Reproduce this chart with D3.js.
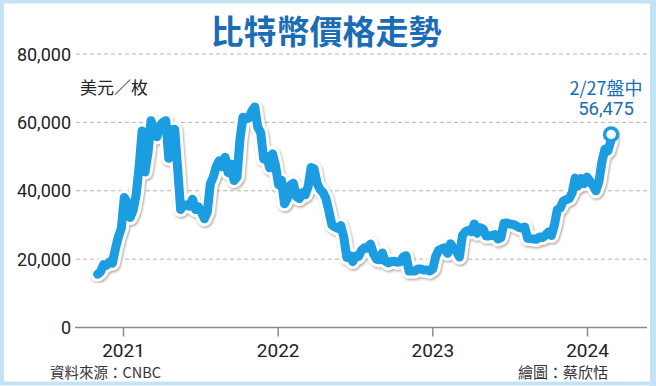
<!DOCTYPE html>
<html>
<head>
<meta charset="utf-8">
<script src="https://cdn.jsdelivr.net/npm/d3@7"></script>
<style>
  html, body { margin: 0; padding: 0; background: #fff; }
  svg { display: block; }
  .cjk { font-family: "Noto Sans CJK TC", "Noto Sans", sans-serif; }
  .num { font-family: Roboto, "Liberation Sans", sans-serif; }
</style>
</head>
<body>
<svg id="chart" width="656" height="386"></svg>
<script>
// weekly closes (USD per coin)
var weeks2020 = ["2020-11-02","2020-11-09","2020-11-16","2020-11-23","2020-11-30","2020-12-07","2020-12-14","2020-12-21","2020-12-28"];
var price2020 = [15600,16300,18400,18200,19200,18800,23000,26500,29000];

var weeks2021 = ["2021-01-04","2021-01-11","2021-01-18","2021-01-25","2021-02-01","2021-02-08","2021-02-15","2021-02-22",
  "2021-03-01","2021-03-08","2021-03-15","2021-03-22","2021-03-29","2021-04-05","2021-04-12","2021-04-19","2021-04-26",
  "2021-05-03","2021-05-10","2021-05-17","2021-05-24","2021-05-31","2021-06-07","2021-06-14","2021-06-21","2021-06-28",
  "2021-07-05","2021-07-12","2021-07-19","2021-07-26","2021-08-02","2021-08-09","2021-08-16","2021-08-23","2021-08-30",
  "2021-09-06","2021-09-13","2021-09-20","2021-09-27","2021-10-04","2021-10-11","2021-10-18","2021-10-25",
  "2021-11-01","2021-11-08","2021-11-15","2021-11-22","2021-11-29","2021-12-06","2021-12-13","2021-12-20","2021-12-27"];
var price2021 = [38000,36500,32200,34300,38800,47000,57500,45500,
  51000,60500,57500,55800,59000,60000,60500,49500,57800,
  58000,46500,34500,35800,35800,35500,37500,34500,35300,
  33800,31800,33800,42000,44000,47000,48800,47000,49800,
  45300,47800,43000,44000,55000,61500,61000,61300,
  63300,64500,58600,57000,49300,50100,46700,50800,47300];

var weeks2022 = ["2022-01-03","2022-01-10","2022-01-17","2022-01-24","2022-01-31","2022-02-07","2022-02-14","2022-02-21",
  "2022-02-28","2022-03-07","2022-03-14","2022-03-21","2022-03-28","2022-04-04","2022-04-11","2022-04-18","2022-04-25",
  "2022-05-02","2022-05-09","2022-05-16","2022-05-23","2022-05-30","2022-06-06","2022-06-13","2022-06-20","2022-06-27",
  "2022-07-04","2022-07-11","2022-07-18","2022-07-25","2022-08-01","2022-08-08","2022-08-15","2022-08-22","2022-08-29",
  "2022-09-05","2022-09-12","2022-09-19","2022-09-26","2022-10-03","2022-10-10","2022-10-17","2022-10-24",
  "2022-10-31","2022-11-07","2022-11-14","2022-11-21","2022-11-28","2022-12-05","2022-12-12","2022-12-19","2022-12-26"];
var price2022 = [41800,43100,36200,37800,41600,42200,38300,37700,
  39400,38800,41300,46800,46400,42200,40400,39500,37700,
  34000,30000,29400,29000,29800,26500,20500,21000,19300,
  20900,20800,22600,23300,23200,24400,21600,20000,19800,
  21800,19400,18900,19300,19400,19100,19200,20600,
  21000,16500,16600,16500,17100,17100,16800,16800,16500];

var weeks2023 = ["2023-01-02","2023-01-09","2023-01-16","2023-01-23","2023-01-30","2023-02-06","2023-02-13","2023-02-20",
  "2023-02-27","2023-03-06","2023-03-13","2023-03-20","2023-03-27","2023-04-03","2023-04-10","2023-04-17","2023-04-24",
  "2023-05-01","2023-05-08","2023-05-15","2023-05-22","2023-05-29","2023-06-05","2023-06-12","2023-06-19","2023-06-26",
  "2023-07-03","2023-07-10","2023-07-17","2023-07-24","2023-07-31","2023-08-07","2023-08-14","2023-08-21","2023-08-28",
  "2023-09-04","2023-09-11","2023-09-18","2023-09-25","2023-10-02","2023-10-09","2023-10-16","2023-10-23",
  "2023-10-30","2023-11-06","2023-11-13","2023-11-20","2023-11-27","2023-12-04","2023-12-11","2023-12-18","2023-12-25"];
var price2023 = [17100,20800,22600,23000,23300,21700,24500,23200,
  22300,20600,26900,28000,28400,28000,30300,27600,29200,
  28800,26800,26800,26900,27200,25900,26300,30500,30600,
  30300,30200,29800,29300,29100,29400,26100,26000,25900,
  25800,26500,26300,27000,27900,26900,29900,34500,
  35000,37000,37400,37700,39400,43700,41400,43600,42100];

var weeks2024 = ["2024-01-01","2024-01-08","2024-01-15","2024-01-22","2024-01-29","2024-02-05","2024-02-12","2024-02-19","2024-02-26","2024-02-27"];
var price2024 = [44000,42800,41600,40000,42600,48300,52100,51600,54500,56475];

var yTicks = [0, 20000, 40000, 60000, 80000];
var yearTicks = ["2021-01-01", "2022-01-01", "2023-01-01", "2024-01-01"];

var parse = d3.timeParse("%Y-%m-%d");
var weeks = [].concat(weeks2020, weeks2021, weeks2022, weeks2023, weeks2024);
var prices = [].concat(price2020, price2021, price2022, price2023, price2024);
var series = weeks.map(function(w, i) { return { date: parse(w), value: prices[i] }; });
var last = series[series.length - 1];

var svg = d3.select("#chart");
var blue = "#1c9de2";
var dark = "#1a6db5";

var x = d3.scaleTime()
  .domain([parse(yearTicks[0]), parse(yearTicks[3])])
  .range([123, 587]);
var y = d3.scaleLinear().domain([0, 80000]).range([327.5, 54]);

// frame
svg.append("rect")
  .attr("x", 2).attr("y", 1.5).attr("width", 650).attr("height", 382)
  .attr("fill", "#fff").attr("stroke", "#c4e4f5").attr("stroke-width", 4);
svg.append("line")
  .attr("x1", 653).attr("x2", 653).attr("y1", 0).attr("y2", 386)
  .attr("stroke", "#c4e4f5").attr("stroke-width", 6);

// title
svg.append("text").attr("class", "cjk")
  .attr("x", 326).attr("y", 44)
  .attr("text-anchor", "middle")
  .attr("font-size", 33).attr("font-weight", 700)
  .attr("fill", dark)
  .text("比特幣價格走勢");

// grid
svg.append("g").selectAll("line")
  .data(yTicks.filter(function(d) { return d > 0; }))
  .enter().append("line")
    .attr("x1", 76).attr("x2", 647)
    .attr("y1", function(d) { return y(d); }).attr("y2", function(d) { return y(d); })
    .attr("stroke", "#b5b5b5").attr("stroke-width", 1)
    .attr("stroke-dasharray", "4,3");

// y labels
svg.append("g").selectAll("text")
  .data(yTicks)
  .enter().append("text")
    .attr("class", "num")
    .attr("x", 71).attr("y", function(d) { return y(d) + 6.5; })
    .attr("text-anchor", "end")
    .attr("font-size", 18).attr("fill", "#222")
    .text(function(d) { return d3.format(",")(d); });

// x axis
svg.append("line")
  .attr("x1", 75).attr("x2", 647)
  .attr("y1", y(0)).attr("y2", y(0))
  .attr("stroke", "#8a8a8a").attr("stroke-width", 1.5);

var xAxis = d3.axisBottom(x)
  .tickValues(yearTicks.map(parse))
  .tickSize(9).tickSizeOuter(0)
  .tickFormat(d3.timeFormat("%Y"));

var gx = svg.append("g").attr("transform", "translate(0," + y(0) + ")").call(xAxis);
gx.select(".domain").remove();
gx.selectAll(".tick line").attr("stroke", "#8a8a8a").attr("stroke-width", 1.5);
gx.selectAll(".tick text")
  .attr("class", "num")
  .attr("y", 29).attr("dy", 0)
  .attr("font-size", 19).attr("fill", "#222");

// unit
svg.append("text").attr("class", "cjk")
  .attr("x", 80).attr("y", 94)
  .attr("font-size", 17).attr("fill", "#222")
  .text("美元／枚");

// line
var defs = svg.append("defs");
var f = defs.append("filter").attr("id", "shadow")
  .attr("x", "-5%").attr("y", "-5%").attr("width", "110%").attr("height", "110%");
f.append("feDropShadow")
  .attr("dx", 1).attr("dy", 1.5).attr("stdDeviation", 1.2)
  .attr("flood-color", "#8c7a70").attr("flood-opacity", 0.65);

var line = d3.line()
  .x(function(d) { return x(d.date); })
  .y(function(d) { return y(d.value); })
  .curve(d3.curveLinear);

svg.append("path").datum(series)
  .attr("d", line)
  .attr("fill", "none")
  .attr("stroke", "#fff").attr("stroke-width", 15)
  .attr("stroke-linejoin", "round").attr("stroke-linecap", "round")
  .attr("filter", "url(#shadow)");

svg.append("path").datum(series)
  .attr("d", line)
  .attr("fill", "none")
  .attr("stroke", blue).attr("stroke-width", 9)
  .attr("stroke-linejoin", "round").attr("stroke-linecap", "round");

svg.append("circle")
  .attr("cx", x(last.date)).attr("cy", y(last.value))
  .attr("r", 6.5)
  .attr("fill", "#fff").attr("stroke", blue).attr("stroke-width", 3.5);

// annotation
svg.append("text").attr("class", "cjk")
  .attr("x", 606).attr("y", 95)
  .attr("text-anchor", "middle")
  .attr("font-size", 18).attr("fill", dark)
  .text("2/27盤中");
svg.append("text").attr("class", "num")
  .attr("x", 606).attr("y", 115)
  .attr("text-anchor", "middle")
  .attr("font-size", 18.5).attr("fill", dark)
  .text(d3.format(",")(last.value));

// source and credit
svg.append("text").attr("class", "cjk")
  .attr("x", 50).attr("y", 378)
  .attr("font-size", 14.5).attr("fill", "#333")
  .text("資料來源：CNBC");
svg.append("text").attr("class", "cjk")
  .attr("x", 608).attr("y", 378)
  .attr("text-anchor", "end")
  .attr("font-size", 15).attr("fill", "#333")
  .text("繪圖：蔡欣恬");
</script>
</body>
</html>
